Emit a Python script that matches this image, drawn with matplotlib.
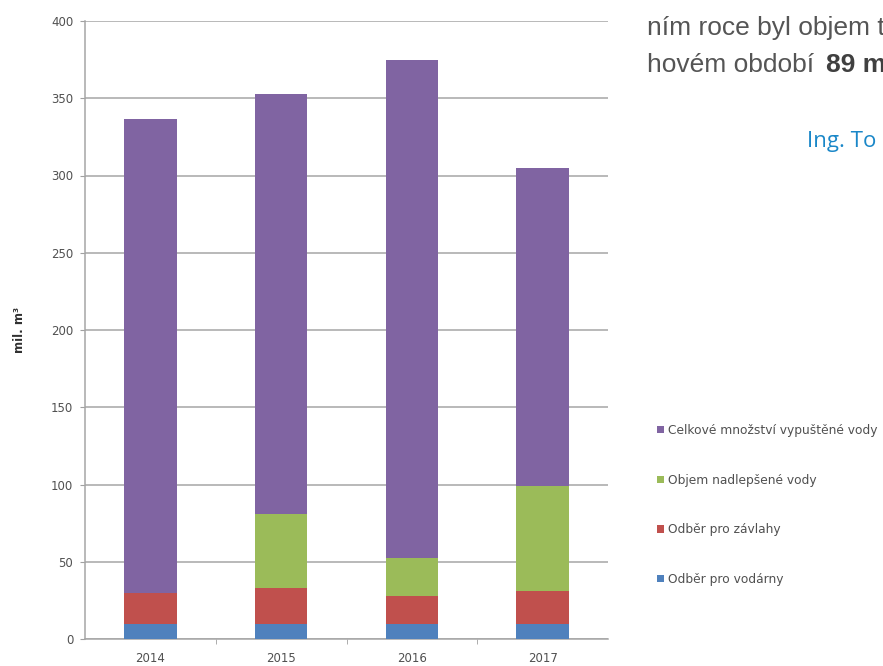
import matplotlib
matplotlib.use("Agg")
import matplotlib.pyplot as plt
import numpy as np
from matplotlib.patches import Patch

plt.rcParams["font.family"] = ["DejaVu Sans"]

years = ["2014", "2015", "2016", "2017"]
vodarny = [10, 10, 10, 10]
zavlahy = [20, 23, 18, 21]
nadlepsena = [0, 48, 24.5, 68]
vypustena = [306.5, 272, 322.5, 206]

series_labels = ["Odběr pro vodárny", "Odběr pro závlahy",
                 "Objem nadlepšené vody", "Celkové množství vypuštěné vody"]
colors = ["#4f81bd", "#c0504d", "#9bbb59", "#8064a2"]
yticks = [0, 50, 100, 150, 200, 250, 300, 350, 400]

fig = plt.figure(figsize=(8.83, 6.66), dpi=100)
ax = fig.add_axes([85/883, 27/666, 523/883, 618/666])

x = np.arange(len(years))
bottom = np.zeros(len(years))
handles = []
for vals, lab, col in zip([vodarny, zavlahy, nadlepsena, vypustena], series_labels, colors):
    ax.bar(x, vals, width=0.4, bottom=bottom, color=col, zorder=3)
    bottom += np.array(vals)
    handles.append(Patch(facecolor=col, label=lab))

ax.set_xlim(-0.5, 3.5)
ax.set_ylim(0, 400)
ax.set_yticks(yticks)
ax.set_yticklabels([str(v) for v in yticks], fontsize=8.5, color="#505050")
ax.set_xticks(x)
ax.set_xticklabels(years, fontsize=8.5, color="#505050")
ax.set_xticks([0.5, 1.5, 2.5], minor=True)
ax.tick_params(axis="x", which="major", length=0, pad=9)
ax.tick_params(axis="x", which="minor", length=3.5, color="#a0a0a0")
ax.tick_params(axis="y", length=3.5, color="#a0a0a0", pad=5)
ax.grid(axis="y", color="#a6a6a6", linewidth=1.1, zorder=0)
for s in ["top", "right"]:
    ax.spines[s].set_visible(False)
for s in ["left", "bottom"]:
    ax.spines[s].set_color("#a6a6a6")
    ax.spines[s].set_linewidth(1.1)

ax.set_ylabel("mil. m³", fontsize=8.5, fontweight="bold", color="#303030", labelpad=18)

leg = fig.legend(handles=handles[::-1], loc="upper left", bbox_to_anchor=(657/883, (666-424)/666),
                 frameon=False, fontsize=8.8, labelspacing=3.0, handlelength=0.55, handleheight=0.55,
                 handletextpad=0.35, borderpad=0, borderaxespad=0)
for t in leg.get_texts():
    t.set_color("#505050")

fig.text(647/883, 1 - 35/666, "ním roce byl objem t", fontsize=19, color="#555555",
         family="Liberation Sans", va="baseline")
fig.text(647/883, 1 - 72/666, "hovém období", fontsize=19, color="#555555",
         family="Liberation Sans", va="baseline")
fig.text(826/883, 1 - 72/666, "89 m", fontsize=19, color="#404040",
         family="Liberation Sans", fontweight="bold", va="baseline")
fig.text(807/883, 1 - 147/666, "Ing. To", fontsize=16, color="#1a87c8",
         family="Open Sans", va="baseline")

fig.savefig("out.png", dpi=100)
